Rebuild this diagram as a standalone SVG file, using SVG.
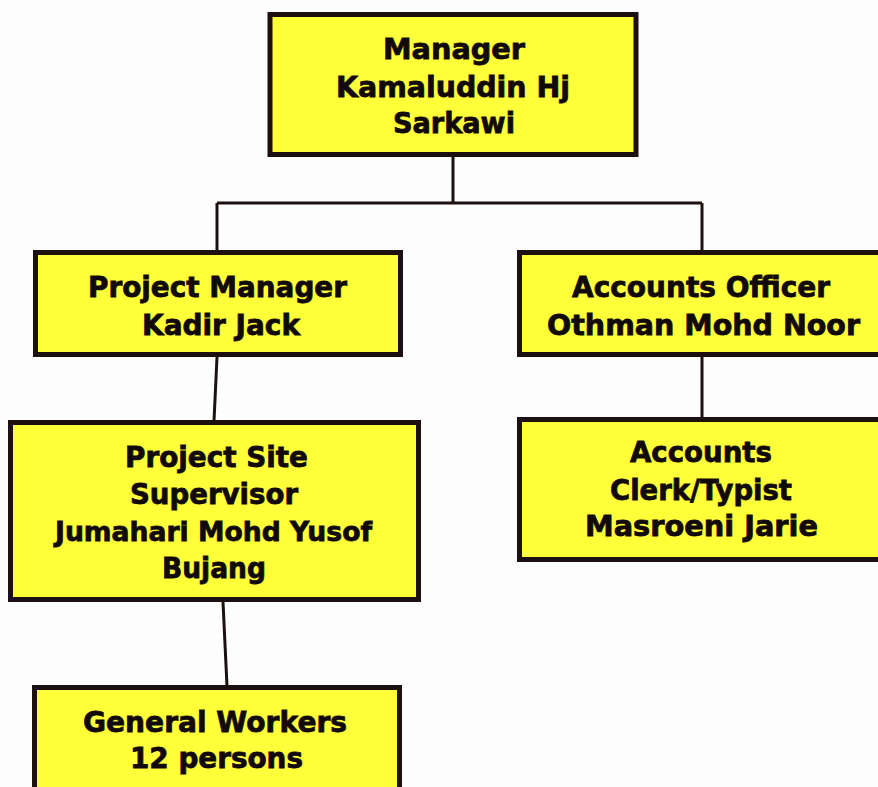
<svg xmlns="http://www.w3.org/2000/svg" width="878" height="787" viewBox="0 0 878 787">
<style>
.box{fill:#FFFF3A;stroke:#1c1010;stroke-width:5}
.t{font-family:"DejaVu Sans","Liberation Sans",sans-serif;font-weight:bold;font-size:28.5px;fill:#120a0a;stroke:#120a0a;stroke-width:0.8;text-anchor:middle}
.s{font-size:27px}
.c{stroke:#1c1010;stroke-width:3;fill:none}
</style>
<rect width="878" height="787" fill="#FDFDFD"/>
<g id="connectors">
<path class="c" d="M453 157 V203 M217 203 H702 M217 203 V251 M702 203 V251"/>
<path class="c" d="M217 357 L214 421"/>
<path class="c" d="M702 357 V418"/>
<path class="c" d="M223 602 L227 686"/>
</g>
<g id="manager">
<rect class="box" x="270" y="14.5" width="366" height="140"/>
<text class="t" x="454" y="58.5" textLength="142" lengthAdjust="spacingAndGlyphs">Manager</text>
<text class="t" x="453" y="96.5" textLength="234" lengthAdjust="spacingAndGlyphs">Kamaluddin Hj</text>
<text class="t" x="454" y="132.5" textLength="122" lengthAdjust="spacingAndGlyphs">Sarkawi</text>
</g>
<g id="project-manager">
<rect class="box" x="35.5" y="252.5" width="365" height="102"/>
<text class="t" x="217.5" y="297" textLength="259" lengthAdjust="spacingAndGlyphs">Project Manager</text>
<text class="t" x="221" y="335" textLength="158" lengthAdjust="spacingAndGlyphs">Kadir Jack</text>
</g>
<g id="accounts-officer">
<rect class="box" x="519.5" y="252.5" width="370" height="102"/>
<text class="t" x="701" y="297" textLength="258" lengthAdjust="spacingAndGlyphs">Accounts Officer</text>
<text class="t" x="703.5" y="335" textLength="313" lengthAdjust="spacingAndGlyphs">Othman Mohd Noor</text>
</g>
<g id="site-supervisor">
<rect class="box" x="10.5" y="422.5" width="408" height="177"/>
<text class="t" x="216.5" y="467" textLength="183" lengthAdjust="spacingAndGlyphs">Project Site</text>
<text class="t" x="214" y="504" textLength="168" lengthAdjust="spacingAndGlyphs">Supervisor</text>
<text class="t s" x="213.5" y="541" textLength="317" lengthAdjust="spacingAndGlyphs">Jumahari Mohd Yusof</text>
<text class="t" x="214" y="578" textLength="104" lengthAdjust="spacingAndGlyphs">Bujang</text>
</g>
<g id="accounts-clerk">
<rect class="box" x="519.5" y="419.5" width="370" height="140"/>
<text class="t" x="701" y="462" textLength="142" lengthAdjust="spacingAndGlyphs">Accounts</text>
<text class="t" x="701" y="500" textLength="182" lengthAdjust="spacingAndGlyphs">Clerk/Typist</text>
<text class="t" x="701.5" y="536" textLength="233" lengthAdjust="spacingAndGlyphs">Masroeni Jarie</text>
</g>
<g id="general-workers">
<rect class="box" x="34.5" y="687.5" width="365" height="120"/>
<text class="t" x="215" y="732" textLength="264" lengthAdjust="spacingAndGlyphs">General Workers</text>
<text class="t" x="216.5" y="768" textLength="173" lengthAdjust="spacingAndGlyphs">12 persons</text>
</g>
</svg>
